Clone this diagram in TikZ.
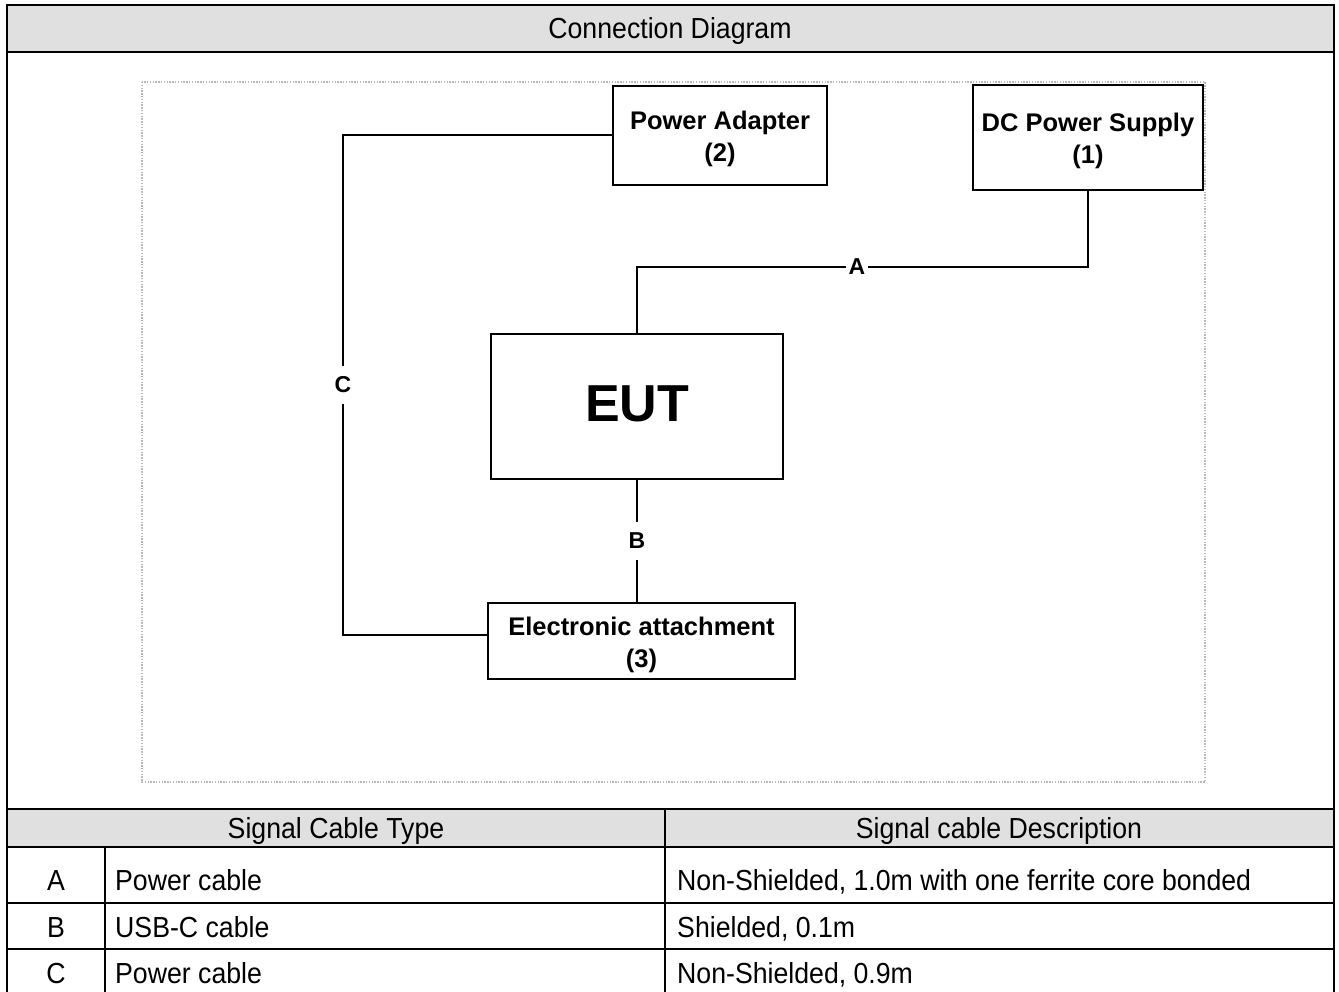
\documentclass[tikz,border=0pt]{standalone}
\usepackage{fontspec}
\setmainfont{Liberation Sans}
\newfontfamily\cellfamily[FakeStretch=0.92]{Liberation Sans}
\usetikzlibrary{positioning}
\usepackage{xcolor}
\newcommand{\UnitFont}{\fontsize{25.5}{32}\selectfont\bfseries}
\newcommand{\EutFont}{\fontsize{52}{52}\selectfont\bfseries}
\newcommand{\TagFont}{\fontsize{23}{23}\selectfont\bfseries}
\newcommand{\CellFont}{\cellfamily\fontsize{29}{29}\selectfont}
\newcommand{\TwoLines}[2]{\raisebox{-4pt}[\height][\depth]{\begin{tabular}{@{}c@{}}#1\\#2\end{tabular}}}
\definecolor{headgray}{RGB}{224,224,224}
\definecolor{framegray}{RGB}{185,185,185}

\begin{document}
\begin{tikzpicture}[x=1pt,y=-1pt,
  unit/.style={draw, line width=2.6pt, inner sep=0pt, font=\UnitFont},
  cable/.style={line width=2pt},
  tag/.style={fill=white, inner xsep=3pt, inner ysep=11pt, font=\TagFont},
  rule/.style={line width=2.6pt},
  cell/.style={anchor=base, inner sep=0pt, font=\CellFont}]
  \useasboundingbox (0,0) rectangle (1339,992);

  \fill[headgray] (7,5) rectangle (1334,52);
  \fill[headgray] (7,809) rectangle (1334,847);
  \draw[rule] (7,1000) -- (7,5) -- (1334,5) -- (1334,1000);
  \foreach \y in {52,809,847,903,949}
    \draw[rule] (7,\y) -- (1334,\y);
  \draw[rule] (665,809) -- (665,1000);
  \draw[rule] (105,847) -- (105,1000);

  \node[cell] (Title)    at (670,39)  {Connection Diagram};
  \node[cell] (HeadType) at (336,838) {Signal Cable Type};
  \node[cell] (HeadDesc) at (999,838) {Signal cable Description};
  \node[cell] (KeyA) at (56,890) {A};
  \node[cell] (KeyB) at (56,937) {B};
  \node[cell] (KeyC) at (56,983) {C};
  \node[cell, anchor=base west] (TypeA) at (115,890) {Power cable};
  \node[cell, anchor=base west] (TypeB) at (115,937) {USB-C cable};
  \node[cell, anchor=base west] (TypeC) at (115,983) {Power cable};
  \node[cell, anchor=base west] (DescA) at (677,890) {Non-Shielded, 1.0m with one ferrite core bonded};
  \node[cell, anchor=base west] (DescB) at (677,937) {Shielded, 0.1m};
  \node[cell, anchor=base west] (DescC) at (677,983) {Non-Shielded, 0.9m};

  \draw[framegray, line width=1.4pt, dash pattern=on 1.4pt off 1.4pt] (142,82) rectangle (1205,782);

  \node[unit, minimum width=214pt, minimum height=99pt]  (Adapter) at (720,135.5) {\TwoLines{Power Adapter}{(2)}};
  \node[unit, minimum width=230pt, minimum height=105pt] (Supply)  at (1088,137.5) {\TwoLines{DC Power Supply}{(1)}};
  \node[unit, minimum width=292pt, minimum height=145pt, font=\EutFont] (Eut) at (637,406.5) {\raisebox{3pt}[\height][\depth]{EUT}};
  \node[unit, minimum width=307pt, minimum height=76pt]  (Attach)  at (641.5,641) {\TwoLines{Electronic attachment}{(3)}};

  \coordinate (AKnee) at (857,267);
  \coordinate (CKnee) at (343,385);
  \coordinate (AttachIn) at ([yshift=6pt]Attach.west);

  \draw[cable] (Supply.south) |- (AKnee) node[tag] (TagA) {A} -| (Eut.north);
  \draw[cable] (Eut.south) -- node[tag] (TagB) {B} (Eut.south |- Attach.north);
  \draw[cable] (Adapter.west) -| (CKnee) node[tag] (TagC) {C} |- (AttachIn);
\end{tikzpicture}
\end{document}
